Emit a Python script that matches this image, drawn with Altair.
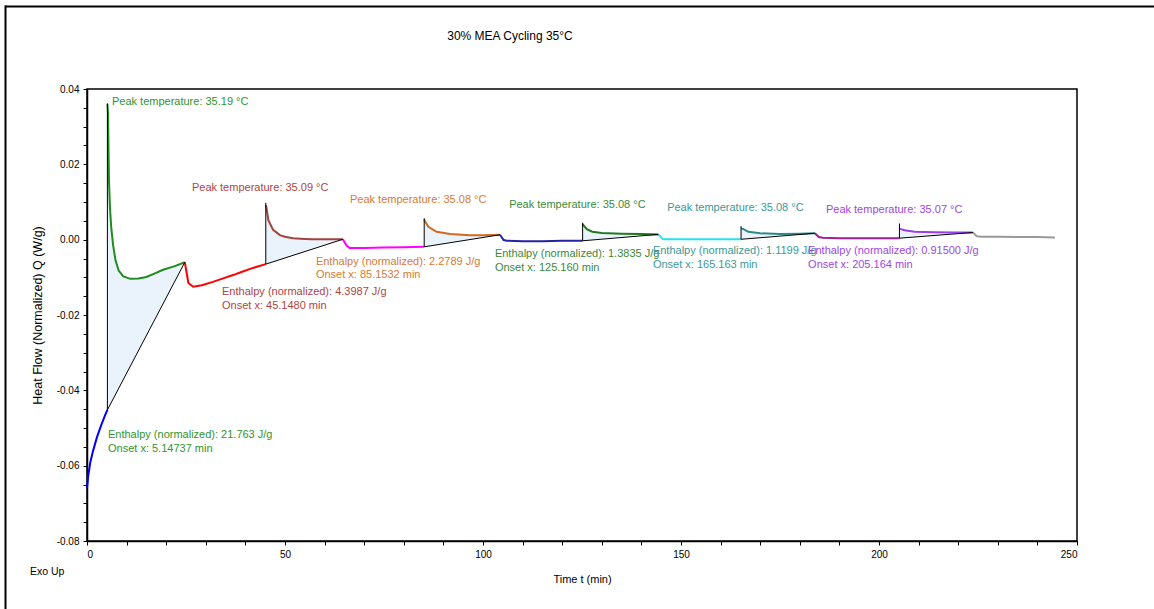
import altair as alt
import pandas as pd

FONT = "Liberation Sans"

# ---------------- data: curve segments (time in min, heat flow in W/g) ----------------
blue_t = [0, 0.3, 0.8, 1.5, 2.5, 3.5, 4.5, 5.15]
blue_y = [-0.066, -0.0628, -0.0593, -0.0562, -0.0525, -0.0495, -0.0468, -0.0452]

green1_t = [5.15, 5.3, 5.55, 5.8, 6.1, 6.6, 7.2, 8.0, 9.1, 10.9, 13, 15, 17, 19.2, 22, 24.7]
green1_y = [0.036, 0.0337, 0.0158, 0.0085, 0.0035, -0.0015, -0.0055, -0.0082, -0.0097, -0.0104,
            -0.0103, -0.0099, -0.009, -0.008, -0.0071, -0.006]

red_t = [24.7, 25.6, 26.8, 29, 31.8, 34, 36.9, 39, 41.9, 45.15]
red_y = [-0.006, -0.0115, -0.0125, -0.0121, -0.0112, -0.0104, -0.0094, -0.0086, -0.0075, -0.0065]

brown_t = [45.15, 45.3, 45.8, 47.0, 48.7, 50, 52, 55, 57, 60, 64.6]
brown_y = [0.0092, 0.0086, 0.0052, 0.0026, 0.0012, 0.0008, 0.0004, 0.0002, 0.0001, 0.0001, 0.0001]

magenta_t = [64.6, 65.5, 66.3, 70, 75, 80, 85.15]
magenta_y = [0.0001, -0.0015, -0.0022, -0.0022, -0.0021, -0.002, -0.0019]

orange_t = [85.15, 85.4, 86.2, 88.3, 91.7, 96.7, 100, 104.3]
orange_y = [0.0054, 0.0048, 0.0034, 0.0021, 0.0015, 0.0012, 0.0012, 0.0013]

navy_t = [104.3, 105.2, 106, 110, 115, 120, 125.16]
navy_y = [0.0013, -0.0001, -0.0003, -0.0004, -0.0004, -0.0003, -0.0003]

green2_t = [125.16, 125.3, 126.2, 127.6, 130, 135, 140, 144.3]
green2_y = [0.0042, 0.0039, 0.0028, 0.0021, 0.0018, 0.0016, 0.0015, 0.0014]

cyan_t = [144.3, 145.3, 146, 150, 155, 160, 165.16]
cyan_y = [0.0014, 0.0002, 0.0001, 0.0001, 0.0001, 0.0001, 0.0001]

teal_t = [165.16, 165.8, 167.0, 170, 175, 180, 183.8]
teal_y = [0.003, 0.0028, 0.0021, 0.0017, 0.0015, 0.0016, 0.0017]

purple_t = [183.8, 184.8, 185.8, 190, 195, 200, 205.16]
purple_y = [0.0017, 0.0007, 0.0005, 0.0004, 0.0004, 0.0004, 0.0004]

violet_t = [205.16, 205.5, 206.5, 209, 214, 219, 223.7]
violet_y = [0.003, 0.0028, 0.0025, 0.0021, 0.002, 0.0019, 0.0019]

gray_t = [223.7, 224.7, 226, 230, 235, 240, 244.4]
gray_y = [0.0019, 0.0009, 0.0008, 0.0008, 0.0007, 0.0007, 0.0006]

seg_names = ["blue", "green1", "red", "brown", "magenta", "orange", "navy",
             "green2", "cyan", "teal", "purple", "violet", "gray"]
seg_colors = ["#0000ff", "#1e8c1e", "#ff0000", "#a5423d", "#ff00ff", "#d2691e", "#2424a0",
              "#1f7a1f", "#20e4f0", "#2a8a8a", "#9b1f9b", "#9a3cf0", "#999999"]
seg_data = [(blue_t, blue_y), (green1_t, green1_y), (red_t, red_y), (brown_t, brown_y),
            (magenta_t, magenta_y), (orange_t, orange_y), (navy_t, navy_y),
            (green2_t, green2_y), (cyan_t, cyan_y), (teal_t, teal_y),
            (purple_t, purple_y), (violet_t, violet_y), (gray_t, gray_y)]

# ---------------- integrated peaks: baseline endpoints ----------------
peak_segs = ["green1", "brown", "orange", "green2", "teal", "violet"]
onset_t = [5.15, 45.15, 85.15, 125.16, 165.16, 205.16]
base_start = [-0.0452, -0.0065, -0.0019, -0.0003, 0.0001, 0.0004]
end_t = [24.7, 64.6, 104.3, 144.3, 183.8, 223.7]
base_end = [-0.006, 0.0001, 0.0013, 0.0014, 0.0017, 0.0019]
peak_top = [0.0362, 0.0098, 0.0057, 0.0045, 0.0036, 0.0043]

# ---------------- annotations ----------------
label_text = ["Peak temperature: 35.19 °C", "Enthalpy (normalized): 21.763 J/g", "Onset x: 5.14737 min",
              "Peak temperature: 35.09 °C", "Enthalpy (normalized): 4.3987 J/g", "Onset x: 45.1480 min",
              "Peak temperature: 35.08 °C", "Enthalpy (normalized): 2.2789 J/g", "Onset x: 85.1532 min",
              "Peak temperature: 35.08 °C", "Enthalpy (normalized): 1.3835 J/g", "Onset x: 125.160 min",
              "Peak temperature: 35.08 °C", "Enthalpy (normalized): 1.1199 J/g", "Onset x: 165.163 min",
              "Peak temperature: 35.07 °C", "Enthalpy (normalized): 0.91500 J/g", "Onset x: 205.164 min"]
label_t = [6.3, 5.3, 5.3,
           26.5, 34.1, 34.1,
           66.4, 57.8, 57.8,
           106.6, 103.0, 103.0,
           146.5, 142.9, 142.9,
           186.6, 182.1, 182.1]
label_y = [0.0365, -0.0519, -0.0556,
           0.0137, -0.0139, -0.0176,
           0.0105, -0.0059, -0.0094,
           0.0092, -0.0038, -0.0075,
           0.0084, -0.003, -0.0067,
           0.0079, -0.003, -0.0067]
label_color = ["#2f952f"] * 3 + ["#b0443f"] * 3 + ["#d77a35"] * 3 + \
              ["#3a8a3a"] * 3 + ["#3a9a9a"] * 3 + ["#a046e6"] * 3

x_ticks = [0, 10, 20, 30, 40, 50, 60, 70, 80, 90, 100, 110, 120, 130, 140, 150,
           160, 170, 180, 190, 200, 210, 220, 230, 240, 250]
y_ticks = [-0.08, -0.075, -0.07, -0.065, -0.06, -0.055, -0.05, -0.045, -0.04, -0.035,
           -0.03, -0.025, -0.02, -0.015, -0.01, -0.005, 0.0, 0.005, 0.01, 0.015,
           0.02, 0.025, 0.03, 0.035, 0.04]

# ---------------- tables ----------------
rows = []
for name, (ts, ys) in zip(seg_names, seg_data):
    for i, (t, y) in enumerate(zip(ts, ys)):
        rows.append({"seg": name, "t": t, "y": y, "i": i})
lines_df = pd.DataFrame(rows)

area_rows = []
for name, t0, b0, t1, b1 in zip(peak_segs, onset_t, base_start, end_t, base_end):
    ts, ys = seg_data[seg_names.index(name)]
    for t, y in zip(ts, ys):
        area_rows.append({"seg": name, "t": t, "y": y, "base": b0 + (b1 - b0) * (t - t0) / (t1 - t0)})
area_df = pd.DataFrame(area_rows)

base_df = pd.DataFrame({"t0": onset_t, "b0": base_start, "t1": end_t, "b1": base_end, "top": peak_top})
label_df = pd.DataFrame({"t": label_t, "y": label_y, "text": label_text, "color": label_color})

W, H = 990, 452

x_scale = alt.Scale(domain=[0, 250], nice=False, zero=False)
y_scale = alt.Scale(domain=[-0.08, 0.04], nice=False, zero=False)

x_axis = alt.Axis(values=x_ticks, labelExpr="datum.value % 50 == 0 ? datum.label : ''",
                  title="Time t (min)", grid=False, tickSize=4, labelPadding=4, titlePadding=14,
                  titleFontSize=11)
y_axis = alt.Axis(values=y_ticks,
                  labelExpr="abs(datum.value*50 - round(datum.value*50)) < 1e-6 ? replace(format(datum.value, '.2f'), '\u2212', '-') : ''",
                  title="Heat Flow (Normalized) Q (W/g)", grid=False, tickSize=4, labelPadding=4,
                  titlePadding=12, titleFontSize=12.5)

X = alt.X("t:Q", scale=x_scale, axis=x_axis)
Y = alt.Y("y:Q", scale=y_scale, axis=y_axis)

areas = alt.Chart(area_df).mark_area(color="#eaf3fc", opacity=1).encode(
    x=X, y=Y, y2="base:Q", detail="seg:N")

lines = alt.Chart(lines_df).mark_line(strokeWidth=2).encode(
    x=X, y=Y,
    color=alt.Color("seg:N", scale=alt.Scale(domain=seg_names, range=seg_colors), legend=None),
    order="i:Q", detail="seg:N")

baselines = alt.Chart(base_df).mark_rule(color="black", strokeWidth=1).encode(
    x=alt.X("t0:Q", scale=x_scale, axis=x_axis), y=alt.Y("b0:Q", scale=y_scale, axis=y_axis),
    x2="t1:Q", y2="b1:Q")

verticals = alt.Chart(base_df).mark_rule(color="black", strokeWidth=1).encode(
    x=alt.X("t0:Q", scale=x_scale, axis=x_axis), y=alt.Y("b0:Q", scale=y_scale, axis=y_axis),
    y2="top:Q")

labels = alt.Chart(label_df).mark_text(align="left", baseline="middle", font=FONT, fontSize=11).encode(
    x=X, y=Y, text="text:N", color=alt.Color("color:N", scale=None))

one = pd.DataFrame({"a": [0]})
title = alt.Chart(one).mark_text(text="30% MEA Cycling 35°C", font=FONT, fontSize=12,
                                 align="center", baseline="middle", color="black").encode(
    x=alt.value(423), y=alt.value(-53))
exo = alt.Chart(one).mark_text(text="Exo Up", font=FONT, fontSize=10.5,
                               align="left", baseline="middle", color="black").encode(
    x=alt.value(-57), y=alt.value(483))
frame_top = alt.Chart(one).mark_rule(color="black", strokeWidth=2).encode(
    x=alt.value(-82), x2=alt.value(1080), y=alt.value(-82.5))
frame_left = alt.Chart(one).mark_rule(color="black", strokeWidth=2).encode(
    x=alt.value(-81.5), y=alt.value(-83.5), y2=alt.value(525))

chart = alt.layer(areas, lines, baselines, verticals, labels, title, exo, frame_top, frame_left).properties(
    width=W, height=H,
    autosize=alt.AutoSizeParams(type="none"),
    padding={"left": 87, "top": 89, "right": 77, "bottom": 68},
    background="white",
).configure_view(stroke="black", strokeWidth=1.5).configure_axis(
    labelFont=FONT, labelFontSize=10, labelColor="black",
    titleFont=FONT, titleFontWeight="normal", titleColor="black",
    domainColor="black", domainWidth=1.5, tickColor="black", tickWidth=1,
)

chart.save("out.html", embed_options={"renderer": "svg", "actions": False})
